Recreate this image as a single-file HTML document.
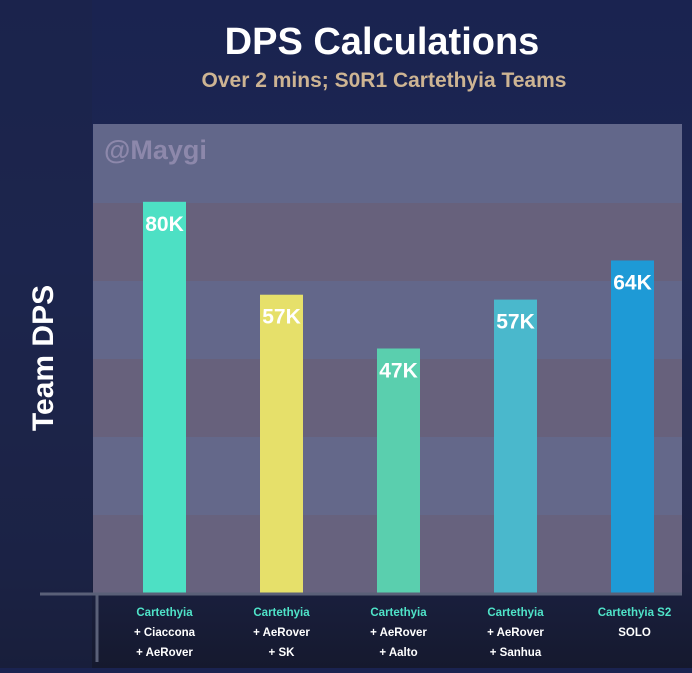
<!DOCTYPE html>
<html><head><meta charset="utf-8"><style>
html,body{margin:0;padding:0;}
body{width:692px;height:668px;overflow:hidden;background:linear-gradient(180deg,#1a2350 0%,#1d2752 40%,#1b2142 85%,#15192e 100%);font-family:"Liberation Sans","DejaVu Sans",sans-serif;}
svg text{font-family:"Liberation Sans","DejaVu Sans",sans-serif;font-weight:bold;}
</style></head><body>
<svg id="chart" width="692" height="668" viewBox="0 0 692 668">
<rect x="0" y="0" width="92" height="668" fill="#1c2448" opacity="0.5"/>
<g>
<rect x="93" y="124" width="589" height="79" fill="#62678a"/>
<rect x="93" y="203" width="589" height="78" fill="#67617c"/>
<rect x="93" y="281" width="589" height="78" fill="#63678a"/>
<rect x="93" y="359" width="589" height="78" fill="#67617c"/>
<rect x="93" y="437" width="589" height="78" fill="#64688a"/>
<rect x="93" y="515" width="589" height="78" fill="#67627e"/>
</g>
<text x="104" y="159" font-size="27" fill="#8d88ab">@Maygi</text>
<text x="382" y="54" font-size="38" fill="#ffffff" text-anchor="middle">DPS Calculations</text>
<text x="384" y="87" font-size="21" fill="#cdb493" text-anchor="middle">Over 2 mins; S0R1 Cartethyia Teams</text>
<text x="0" y="0" font-size="30" fill="#ffffff" text-anchor="middle" transform="translate(53,358) rotate(-90)">Team DPS</text>
<g id="bars"></g>
<line x1="40" y1="594" x2="682" y2="594" stroke="#5a6078" stroke-width="3"/>
<line x1="97" y1="594" x2="97" y2="662" stroke="#5a6078" stroke-width="3"/>
<g id="labels"></g>
</svg>
<script>
const categories=["Cartethyia","Cartethyia","Cartethyia","Cartethyia","Cartethyia S2"];
const subLine1=["+ Ciaccona","+ AeRover","+ AeRover","+ AeRover","SOLO"];
const subLine2=["+ AeRover","+ SK","+ Aalto","+ Sanhua",""];
const values=[80,61,50,60,68];
const valueLabels=["80K","57K","47K","57K","64K"];
const colors=["#4de0c4","#e6e06a","#5acfae","#4ab8cc","#1e9ad6"];
const NS="http://www.w3.org/2000/svg";
const baseY=593, pxPerK=4.89, x0=164.5, step=117, bw=43;
function yScale(v){return baseY-v*pxPerK;}
function xScale(i){return x0+i*step;}
const bars=document.getElementById('bars'), labels=document.getElementById('labels');
values.forEach((v,i)=>{
 const r=document.createElementNS(NS,'rect');
 r.setAttribute('x',xScale(i)-bw/2);r.setAttribute('y',yScale(v));
 r.setAttribute('width',bw);r.setAttribute('height',baseY-yScale(v));
 r.setAttribute('fill',colors[i]);
 
 
 bars.appendChild(r);
 const t=document.createElementNS(NS,'text');
 t.setAttribute('x',xScale(i));t.setAttribute('y',yScale(v)+29);
 t.setAttribute('text-anchor','middle');t.setAttribute('font-size','21');t.setAttribute('fill','#ffffff');
 t.textContent=valueLabels[i];
 
 
 bars.appendChild(t);
 const lines=[[categories[i],'#4fe3c8',616],[subLine1[i],'#ffffff',636],[subLine2[i],'#ffffff',656]];
 lines.forEach((l,j)=>{
  if(!l[0])return;
  const c=document.createElementNS(NS,'text');
  c.setAttribute('x',xScale(i)+(i==4?2:0));c.setAttribute('y',l[2]);
  c.setAttribute('text-anchor','middle');c.setAttribute('font-size','11.5');c.setAttribute('fill',l[1]);
  c.textContent=l[0];
  
  
  labels.appendChild(c);
 });
});
</script>
</body></html>
